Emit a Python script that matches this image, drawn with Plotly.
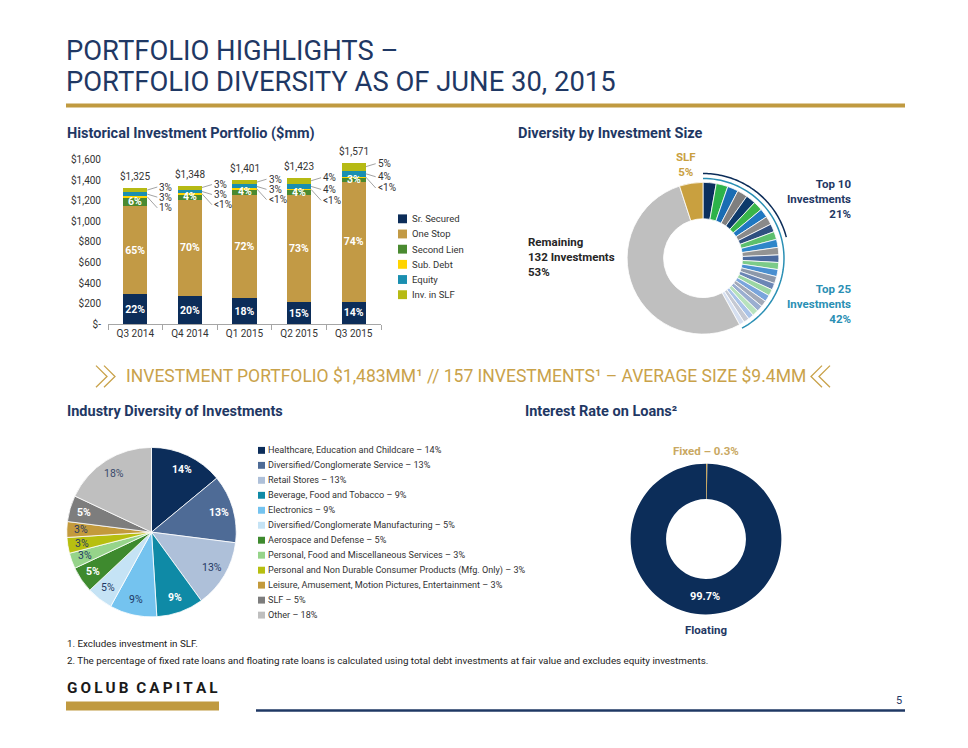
import math
import plotly.graph_objects as go

W, H = 968, 748

# Historical investment portfolio ($mm)
quarters = ["Q3 2014", "Q4 2014", "Q1 2015", "Q2 2015", "Q3 2015"]
totals = [1325, 1348, 1401, 1423, 1571]
sr_secured = [291, 270, 252, 213, 220]
one_stop = [861, 943, 1009, 1039, 1163]
second_lien = [80, 54, 56, 57, 47]
sub_debt = [13, 5, 4, 4, 4]
equity = [40, 38, 40, 55, 59]
inv_slf = [40, 38, 40, 55, 78]

sr_pct = ["22%", "20%", "18%", "15%", "14%"]
os_pct = ["65%", "70%", "72%", "73%", "74%"]
sl_pct = ["6%", "4%", "4%", "4%", "3%"]
sub_pct = ["1%", "<1%", "<1%", "<1%", "<1%"]
eq_pct = ["3%", "3%", "3%", "4%", "4%"]
slf_pct = ["3%", "3%", "3%", "4%", "5%"]

y_ticks = [0, 200, 400, 600, 800, 1000, 1200, 1400, 1600]
y_ticktext = ["$-", "$200", "$400", "$600", "$800", "$1,000", "$1,200", "$1,400", "$1,600"]

# Diversity by investment size (% of portfolio)
top10 = [2.8, 2.5, 2.3, 2.2, 2.1, 2.0, 1.9, 1.8, 1.7, 1.7]
next15 = [1.7, 1.6, 1.6, 1.5, 1.5, 1.5, 1.4, 1.4, 1.4, 1.3, 1.3, 1.3, 1.2, 1.2, 1.1]
remaining = 53
slf_share = 5

# Industry diversity
industries = [
    "Healthcare, Education and Childcare",
    "Diversified/Conglomerate Service",
    "Retail Stores",
    "Beverage, Food and Tobacco",
    "Electronics",
    "Diversified/Conglomerate Manufacturing",
    "Aerospace and Defense",
    "Personal, Food and Miscellaneous Services",
    "Personal and Non Durable Consumer Products (Mfg. Only)",
    "Leisure, Amusement, Motion Pictures, Entertainment",
    "SLF",
    "Other",
]
industry_pct = [14, 13, 13, 9, 9, 5, 5, 3, 3, 3, 5, 18]

# Interest rate on loans
rate_types = ["Fixed", "Floating"]
rate_pct = [0.3, 99.7]

# ---- styles ----
FONT = "Roboto, 'Open Sans', sans-serif"
NAVY = "#1f3864"
GOLD = "#c09a40"
TXT = "#333333"

bar_colors = ["#0c2d59", "#c29a45", "#4a8a30", "#ffd400", "#1a8fb0", "#b6ba14"]
bar_names = ["Sr. Secured", "One Stop", "Second Lien", "Sub. Debt", "Equity", "Inv. in SLF"]

size_colors = ["#0b2f5e", "#2db34a", "#1a6db3", "#7f7f7f", "#0d3a6b", "#39b54a", "#1f78c1",
               "#8a8a8a", "#2f4f80", "#5cbf6d", "#2e86c9", "#939393", "#4a6a9e", "#7ccb89",
               "#4a8fd0", "#8d98aa", "#6b86b5", "#9bd6a3", "#7aa5dc", "#a3aab8", "#9aaed0",
               "#b8e2bd", "#a9c3e8", "#c5c9d3", "#d5dff0", "#bfbfbf", "#c9a03f"]

ind_colors = ["#0c2d5a", "#4e6b96", "#aec0d9", "#0f8aa6", "#74c3ef", "#c5e3f5",
              "#3e8a2e", "#96d48a", "#b7bf10", "#c39a3c", "#7d7d7d", "#bfbfbf"]
ind_text_colors = ["white", "white", NAVY, "white", NAVY, NAVY,
                   "white", NAVY, NAVY, NAVY, "white", "#3a4a6b"]


def fx(px):
    return px / W


def fy(py):
    return 1 - py / H


def pie_domain(cx, cy, r):
    return dict(x=[fx(cx - r), fx(cx + r)], y=[fy(cy + r), fy(cy - r)])


def polar(cx, cy, r, frac):
    a = 2 * math.pi * frac
    return cx + r * math.sin(a), cy - r * math.cos(a)


def arc_path(cx, cy, r, f0, f1, n=60):
    pts = []
    for k in range(n + 1):
        x, y = polar(cx, cy, r, f0 + (f1 - f0) * k / n)
        pts.append(f"{fx(x):.5f},{fy(y):.5f}")
    return "M " + " L ".join(pts)


def text(x, y, s, size=10, color=TXT, xanchor="left", bold=False, align="left", yanchor="middle"):
    if bold:
        s = f"<b>{s}</b>"
    return dict(x=fx(x), y=fy(y), xref="paper", yref="paper", text=s, showarrow=False,
                xanchor=xanchor, yanchor=yanchor, align=align,
                font=dict(family=FONT, size=size, color=color))


fig = go.Figure()
annotations = []
shapes = []

# ---- stacked bars ----
series = [sr_secured, one_stop, second_lien, sub_debt, equity, inv_slf]
inside_text = [sr_pct, os_pct, None, None, None, None]
for name, vals, col, lab in zip(bar_names, series, bar_colors, inside_text):
    fig.add_trace(go.Bar(
        x=quarters, y=vals, name=name, marker=dict(color=col, line=dict(width=0)),
        text=lab, texttemplate="<b>%{text}</b>" if lab else None,
        textposition="inside" if lab else "none", insidetextanchor="middle", textangle=0,
        constraintext="none", textfont=dict(family=FONT, size=10.5, color="white"),
        showlegend=False, xaxis="x", yaxis="y",
    ))

for i, q in enumerate(quarters):
    annotations.append(dict(x=i, y=totals[i], xref="x", yref="y", text=f"${totals[i]:,}",
                            showarrow=False, yanchor="bottom", yshift=4,
                            font=dict(family=FONT, size=10, color=TXT)))
    base = sr_secured[i] + one_stop[i]
    annotations.append(dict(x=i, y=base + second_lien[i] / 2, xref="x", yref="y",
                            text=f"<b>{sl_pct[i]}</b>", showarrow=False,
                            font=dict(family=FONT, size=10.5, color="white")))
    base += second_lien[i]
    outside = [(sub_debt[i], sub_pct[i], 11), (equity[i], eq_pct[i], 3), (inv_slf[i], slf_pct[i], -3)]
    for val, lab, dy in outside:
        mid = base + val / 2
        base += val
        annotations.append(dict(x=i, y=mid, xref="x", yref="y", text=lab, showarrow=True,
                                arrowhead=0, arrowwidth=0.8, arrowcolor="#8c8c8c",
                                ax=10, ay=dy, xshift=12, xanchor="left", standoff=0,
                                font=dict(family=FONT, size=10, color=TXT)))

# bar legend
for k, (name, col) in enumerate(zip(bar_names, bar_colors)):
    yy = 216 + k * 15.4
    shapes.append(dict(type="rect", xref="paper", yref="paper", x0=fx(398), x1=fx(407),
                       y0=fy(yy + 4.5), y1=fy(yy - 4.5), fillcolor=col, line=dict(width=0)))
    annotations.append(text(410, yy, name, size=9.5))

# ---- diversity by investment size ----
size_vals = top10 + next15 + [remaining, slf_share]
size_labels = [f"Investment {k + 1}" for k in range(len(top10) + len(next15))] + \
              ["Remaining Investments", "SLF"]
cx1, cy1, r1 = 703, 256, 77
fig.add_trace(go.Pie(
    values=size_vals, labels=size_labels, sort=False, direction="clockwise", rotation=0,
    hole=0.52, textinfo="none", showlegend=False, domain=pie_domain(cx1, cy1, r1),
    marker=dict(colors=size_colors, line=dict(color="white", width=0.8)),
))
tot = sum(size_vals)
shapes.append(dict(type="path", xref="paper", yref="paper",
                   path=arc_path(cx1, cy1, r1 + 9, 0, sum(top10) / tot),
                   line=dict(color="#0c2d59", width=1.5)))
shapes.append(dict(type="path", xref="paper", yref="paper",
                   path=arc_path(cx1, cy1, r1 + 4, 0, (sum(top10) + sum(next15)) / tot),
                   line=dict(color="#2a8fb4", width=1.5)))
annotations.append(text(686, 161, f"SLF<br>{slf_share}%", size=11.5, color="#c9a03f",
                        xanchor="center", bold=True, align="center"))
annotations.append(text(853, 196, f"Top 10<br>Investments<br>{sum(top10):.0f}%", size=11.5,
                        color=NAVY, xanchor="right", bold=True, align="right"))
annotations.append(text(853, 302, f"Top 25<br>Investments<br>{sum(top10) + sum(next15):.0f}%",
                        size=11.5, color="#2a8fb4", xanchor="right", bold=True, align="right"))
annotations.append(text(526, 255, f"Remaining<br>132 Investments<br>{remaining}%", size=11.5,
                        color="#262626", bold=True))

# ---- industry pie ----
cx2, cy2, r2 = 151.5, 534, 86
fig.add_trace(go.Pie(
    values=industry_pct, labels=industries, sort=False, direction="clockwise", rotation=0,
    textinfo="none", showlegend=False, domain=pie_domain(cx2, cy2, r2),
    marker=dict(colors=ind_colors, line=dict(color="white", width=0.8)),
))
cum = 0
tot = sum(industry_pct)
for k, (pct, tcol) in enumerate(zip(industry_pct, ind_text_colors)):
    x, y = polar(cx2, cy2, r2 * 0.82, (cum + pct / 2) / tot)
    cum += pct
    annotations.append(text(x, y, f"{pct}%", size=10.5, color=tcol, xanchor="center",
                            bold=(tcol == "white")))
for k, (name, pct, col) in enumerate(zip(industries, industry_pct, ind_colors)):
    yy = 451 + k * 15.2
    shapes.append(dict(type="rect", xref="paper", yref="paper", x0=fx(258), x1=fx(265),
                       y0=fy(yy + 3.5), y1=fy(yy - 3.5), fillcolor=col, line=dict(width=0)))
    annotations.append(text(266, yy, f"{name} – {pct}%", size=9.1))

# ---- interest rate donut ----
cx3, cy3, r3 = 706, 541, 76.5
fig.add_trace(go.Pie(
    values=rate_pct, labels=rate_types, sort=False, direction="clockwise", rotation=0,
    hole=0.53, textinfo="none", showlegend=False, domain=pie_domain(cx3, cy3, r3),
    marker=dict(colors=["#c9a862", "#0c2d59"], line=dict(width=0)),
))
x, y = polar(cx3, cy3, r3 * 0.765, (rate_pct[0] + rate_pct[1] / 2) / sum(rate_pct))
annotations.append(text(x, y, f"{rate_pct[1]}%", size=11, color="white", xanchor="center", bold=True))
annotations.append(text(cx3, 452, f"{rate_types[0]} – {rate_pct[0]}%", size=11.5, color="#c9a862",
                        xanchor="center", bold=True))
annotations.append(text(cx3, 633, rate_types[1], size=11.5, color=NAVY, xanchor="center", bold=True))

# ---- slide text ----
annotations += [
    text(64, 46, "PORTFOLIO HIGHLIGHTS –", size=27.4, color=NAVY),
    text(64, 77, "PORTFOLIO DIVERSITY AS OF JUNE 30, 2015", size=27.4, color=NAVY),
    text(65, 129, "Historical Investment Portfolio ($mm)", size=14.5, color=NAVY, bold=True),
    text(516, 129, "Diversity by Investment Size", size=14.5, color=NAVY, bold=True),
    text(65, 412, "Industry Diversity of Investments", size=14.5, color=NAVY, bold=True),
    text(523, 412, "Interest Rate on Loans²", size=14.5, color=NAVY, bold=True),
    text(466, 376, "INVESTMENT PORTFOLIO $1,483MM¹ // 157 INVESTMENTS¹ – AVERAGE SIZE $9.4MM",
         size=17.5, color="#c9a24a", xanchor="center"),
    text(65, 647, "1. Excludes investment in SLF.", size=9.8, color="#222222"),
    text(65, 664, "2. The percentage of fixed rate loans and floating rate loans is calculated using "
                  "total debt investments at fair value and excludes equity investments.",
         size=9.8, color="#222222"),
    text(65, 692, "\u2009".join("GOLUB") + "  " + "\u2009".join("CAPITAL"),
         size=15.3, color="#1a1a1a", bold=True),
    text(904, 705, "5", size=11, color=NAVY, xanchor="right"),
]

# rules and chevrons
shapes += [
    dict(type="line", xref="paper", yref="paper", x0=fx(66), x1=fx(905), y0=fy(101), y1=fy(101),
         line=dict(color=GOLD, width=4)),
    dict(type="rect", xref="paper", yref="paper", x0=fx(66), x1=fx(219), y0=fy(715), y1=fy(706),
         fillcolor=GOLD, line=dict(width=0)),
    dict(type="line", xref="paper", yref="paper", x0=fx(256), x1=fx(905), y0=fy(715), y1=fy(715),
         line=dict(color=NAVY, width=2.5)),
]
for x0, d in [(96, 1), (104, 1), (830, -1), (822, -1)]:
    shapes.append(dict(type="path", xref="paper", yref="paper",
                       path=f"M {fx(x0):.5f},{fy(365):.5f} L {fx(x0 + d * 11):.5f},{fy(376):.5f} "
                            f"L {fx(x0):.5f},{fy(387):.5f}",
                       line=dict(color="#c9a24a", width=1.3)))

fig.update_layout(
    width=W, height=H, margin=dict(l=0, r=0, t=0, b=0),
    paper_bgcolor="white", plot_bgcolor="white",
    barmode="stack", bargap=0.56,
    uniformtext=dict(mode="show", minsize=10.5),
    font=dict(family=FONT, color=TXT),
    xaxis=dict(domain=[fx(108), fx(381)], range=[-0.5, 4.5], type="category",
               showline=True, linecolor="#a6a6a6", linewidth=1, ticks="outside",
               tickson="boundaries", ticklen=5, tickcolor="#a6a6a6",
               tickfont=dict(family=FONT, size=10, color=TXT), showgrid=False),
    yaxis=dict(domain=[fy(323), fy(156)], range=[0, 1600], tickvals=y_ticks, ticktext=y_ticktext,
               showgrid=False, zeroline=False, showline=False, ticklabelstandoff=6,
               tickfont=dict(family=FONT, size=10, color=TXT)),
    annotations=annotations,
    shapes=shapes,
)

fig.write_html("out.html", config={"displayModeBar": False},
               post_script="document.body.style.margin='0';")
